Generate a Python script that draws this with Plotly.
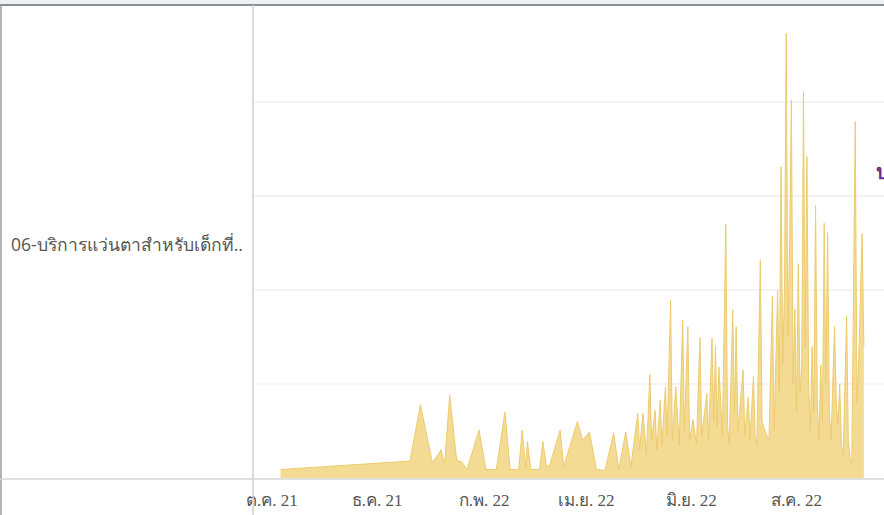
import plotly.graph_objects as go

# ---- data ----
row_label = "06-บริการแว่นตาสำหรับเด็กที่.."
dates = [
    "2021-10-06", "2021-12-20", "2021-12-26", "2022-01-02", "2022-01-07", "2022-01-09",
    "2022-01-12", "2022-01-16", "2022-01-19", "2022-01-22", "2022-01-29", "2022-02-02",
    "2022-02-08", "2022-02-13", "2022-02-16", "2022-02-21", "2022-02-23", "2022-02-25",
    "2022-02-26", "2022-02-28", "2022-03-05", "2022-03-07", "2022-03-09", "2022-03-11",
    "2022-03-17", "2022-03-19", "2022-03-27", "2022-03-30", "2022-04-03", "2022-04-07",
    "2022-04-12", "2022-04-17", "2022-04-20", "2022-04-24", "2022-04-27", "2022-05-01",
    "2022-05-02", "2022-05-04", "2022-05-06", "2022-05-08", "2022-05-09", "2022-05-11",
    "2022-05-12", "2022-05-14", "2022-05-15", "2022-05-17", "2022-05-18", "2022-05-20",
    "2022-05-21", "2022-05-23", "2022-05-25", "2022-05-27", "2022-05-28", "2022-05-30",
    "2022-05-31", "2022-06-02", "2022-06-04", "2022-06-06", "2022-06-07", "2022-06-10",
    "2022-06-11", "2022-06-13", "2022-06-14", "2022-06-15", "2022-06-16", "2022-06-17",
    "2022-06-19", "2022-06-21", "2022-06-22", "2022-06-23", "2022-06-25", "2022-06-26",
    "2022-06-27", "2022-06-28", "2022-07-01", "2022-07-02", "2022-07-04", "2022-07-05",
    "2022-07-07", "2022-07-08", "2022-07-09", "2022-07-11", "2022-07-12", "2022-07-14",
    "2022-07-16", "2022-07-18", "2022-07-19", "2022-07-21", "2022-07-22", "2022-07-23",
    "2022-07-24", "2022-07-25", "2022-07-26", "2022-07-27", "2022-07-28", "2022-07-29",
    "2022-07-30", "2022-07-31", "2022-08-01", "2022-08-02", "2022-08-03", "2022-08-04",
    "2022-08-05", "2022-08-06", "2022-08-07", "2022-08-08", "2022-08-09", "2022-08-10",
    "2022-08-11", "2022-08-12", "2022-08-13", "2022-08-14", "2022-08-15", "2022-08-16",
    "2022-08-17", "2022-08-18", "2022-08-19", "2022-08-20", "2022-08-21", "2022-08-23",
    "2022-08-24", "2022-08-25", "2022-08-26", "2022-08-27", "2022-08-28", "2022-08-30",
    "2022-08-31", "2022-09-01", "2022-09-02", "2022-09-04", "2022-09-05", "2022-09-06",
    "2022-09-08", "2022-09-09",
]
values = [
    0.9, 1.8, 7.8, 1.6, 3.0, 1.4,
    8.8, 1.9, 1.7, 0.9, 5.1, 0.9,
    0.9, 7.0, 0.9, 0.9, 5.1, 1.1,
    3.9, 0.9, 0.9, 3.9, 1.2, 1.4,
    5.1, 1.2, 6.0, 4.0, 4.9, 0.9,
    0.8, 4.8, 0.9, 4.9, 1.2, 6.9,
    3.0, 6.9, 2.5, 11.0, 4.0, 7.2,
    3.0, 8.3, 3.5, 9.7, 4.5, 18.9,
    4.0, 9.7, 3.5, 16.8, 5.0, 16.1,
    4.0, 6.2, 3.5, 14.9, 4.5, 9.0,
    4.0, 14.9, 6.0, 14.0, 5.5, 11.8,
    4.5, 27.0, 5.5, 3.5, 17.9, 7.0,
    16.1, 5.0, 11.5, 4.5, 8.6, 4.0,
    10.8, 4.5, 3.5, 23.2, 6.0, 4.8,
    4.0, 19.3, 5.0, 20.0, 9.0, 33.1,
    12.0, 20.0, 47.3, 15.0, 25.0, 40.2,
    10.0, 18.0, 7.0, 22.8, 9.0, 12.0,
    41.1, 14.0, 34.2, 10.0, 5.0, 14.0,
    7.0, 29.0, 8.0, 4.0, 12.0, 6.0,
    27.1, 10.0, 26.1, 7.0, 4.0, 16.1,
    8.0, 5.8, 10.0, 3.5, 2.5, 17.2,
    4.0, 2.0, 1.6, 37.9, 8.0, 12.6,
    26.0, 14.0,
]
tick_dates = ["2021-10-01", "2021-12-01", "2022-02-01", "2022-04-01", "2022-06-01", "2022-08-01"]
tick_labels = ["ต.ค. 21", "ธ.ค. 21", "ก.พ. 22", "เม.ย. 22", "มิ.ย. 22", "ส.ค. 22"]
grid_values = [10, 20, 30, 40]

W, H = 884, 515
L, R, T, B = 254, 0, 8, 37
PW, PH = W - L - R, H - T - B

def px(x):
    return (x - L) / PW

def py(y):
    return (H - B - y) / PH

fig = go.Figure()
fig.add_trace(go.Scatter(
    x=dates, y=values, mode="lines", fill="tozeroy",
    line=dict(color="#EDCB6E", width=1),
    fillcolor="rgba(243,216,138,0.92)",
    hoverinfo="skip", showlegend=False,
))

shapes = [
    dict(type="rect", xref="paper", yref="paper", x0=px(0), x1=px(W), y0=py(0), y1=py(4),
         fillcolor="#EEF2F5", line=dict(width=0), layer="above"),
    dict(type="line", xref="paper", yref="paper", x0=px(0), x1=px(W), y0=py(5), y1=py(5),
         line=dict(color="#8C8F93", width=2), layer="above"),
    dict(type="line", xref="paper", yref="paper", x0=px(1), x1=px(1), y0=py(5), y1=py(H),
         line=dict(color="#9A9A9A", width=1.5), layer="above"),
    dict(type="line", xref="paper", yref="paper", x0=px(253), x1=px(253), y0=py(5), y1=py(H),
         line=dict(color="#CFCFCF", width=1.5), layer="above"),
    dict(type="line", xref="paper", yref="paper", x0=px(0), x1=px(W), y0=py(479), y1=py(479),
         line=dict(color="#D6D6D6", width=1.5), layer="above"),
]

annotations = [
    dict(text=row_label, xref="paper", yref="paper", x=px(9), y=py(244),
         xanchor="left", yanchor="middle", showarrow=False,
         font=dict(size=17.5, color="#555555")),
    dict(text="<b>ป</b>", xref="paper", yref="paper", x=px(874), y=py(171),
         xanchor="left", yanchor="middle", showarrow=False,
         font=dict(size=20, color="#6B2D90")),
]

fig.update_layout(
    width=W, height=H,
    margin=dict(l=L, r=R, t=T, b=B, pad=0),
    paper_bgcolor="white", plot_bgcolor="white",
    shapes=shapes, annotations=annotations,
    xaxis=dict(
        type="date",
        range=["2021-09-20 14:00", "2022-09-20 16:00"],
        tickvals=tick_dates, ticktext=tick_labels,
        showgrid=False, zeroline=False, showline=False, ticks="",
        tickfont=dict(size=17, color="#555555", family="Liberation Serif, serif"),
        ticklabelstandoff=10,
    ),
    yaxis=dict(
        range=[0, 50], tickvals=grid_values, showticklabels=False,
        showgrid=True, gridcolor="#F3F3F3", gridwidth=1.5,
        zeroline=False, showline=False, ticks="",
    ),
)

fig.write_html(
    "out.html",
    config={"displayModeBar": False, "staticPlot": True},
    post_script="document.body.style.margin='0';document.body.style.overflow='hidden';",
)
